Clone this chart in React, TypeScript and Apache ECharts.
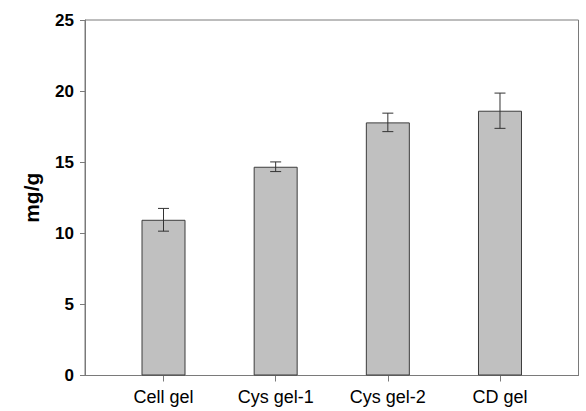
import React, { useEffect, useRef } from "react";
import * as echarts from "echarts";

const categories = ["Cell gel", "Cys gel-1", "Cys gel-2", "CD gel"];
const means = [10.95, 14.68, 17.8, 18.62];
const errors = [0.8, 0.34, 0.65, 1.24];
const yTicks = [0, 5, 10, 15, 20, 25];

export default function App() {
  const ref = useRef<HTMLDivElement>(null);
  useEffect(() => {
    if (!ref.current) return;
    const chart = echarts.init(ref.current, undefined, { renderer: "svg" });
    const positions = categories.map((_, i) => i + 1);
    const axisColor = "#7a7a7a";
    chart.setOption({
      animation: false,
      backgroundColor: "#ffffff",
      grid: {
        left: 85,
        right: 7.5,
        top: 20,
        bottom: 35.5,
        show: true,
        borderColor: axisColor,
        borderWidth: 1,
        backgroundColor: "transparent",
      },
      xAxis: {
        type: "value",
        min: 0.3,
        max: 4.7,
        splitLine: { show: false },
        axisLine: { show: true, lineStyle: { color: axisColor, width: 1 } },
        axisTick: {
          show: true,
          customValues: positions,
          length: 6,
          lineStyle: { color: axisColor },
        },
        axisLabel: {
          customValues: positions,
          formatter: (v: number) => categories[Math.round(v) - 1] ?? "",
          margin: 12,
          color: "#000",
          fontFamily: "Liberation Sans, Arial, sans-serif",
          fontSize: 18,
        },
      },
      yAxis: {
        type: "value",
        min: 0,
        max: 25,
        interval: 5,
        name: "mg/g",
        nameLocation: "middle",
        nameGap: 43,
        nameRotate: 90,
        nameTextStyle: {
          color: "#000",
          fontFamily: "Liberation Sans, Arial, sans-serif",
          fontSize: 21,
          fontWeight: "bold",
        },
        splitLine: { show: false },
        axisLine: { show: true, lineStyle: { color: axisColor, width: 1 } },
        axisTick: { show: true, length: 5, lineStyle: { color: axisColor } },
        axisLabel: {
          margin: 11,
          color: "#000",
          fontFamily: "Liberation Sans, Arial, sans-serif",
          fontSize: 17,
          fontWeight: "bold",
          formatter: (v: number) => (yTicks.includes(v) ? String(v) : ""),
        },
      },
      series: [
        {
          type: "bar",
          data: positions.map((p, i) => [p, means[i]]),
          barWidth: 44,
          itemStyle: {
            color: "#c0c0c0",
            borderColor: "#3c3c3c",
            borderWidth: 1,
          },
        },
        {
          type: "custom",
          data: positions.map((p, i) => [p, means[i] - errors[i], means[i] + errors[i]]),
          renderItem: (params: any, api: any) => {
            const x = api.value(0);
            const lo = api.coord([x, api.value(1)]);
            const hi = api.coord([x, api.value(2)]);
            const half = 5.5;
            const style = { stroke: "#333333", lineWidth: 1 };
            return {
              type: "group",
              children: [
                { type: "line", shape: { x1: lo[0], y1: lo[1], x2: hi[0], y2: hi[1] }, style },
                { type: "line", shape: { x1: hi[0] - half, y1: hi[1], x2: hi[0] + half, y2: hi[1] }, style },
                { type: "line", shape: { x1: lo[0] - half, y1: lo[1], x2: lo[0] + half, y2: lo[1] }, style },
              ],
            };
          },
          z: 10,
        },
      ],
    });
    return () => chart.dispose();
  }, []);
  return (
    <div
      ref={ref}
      style={{ position: "fixed", left: 0, top: 0, width: 586, height: 411 }}
    />
  );
}
